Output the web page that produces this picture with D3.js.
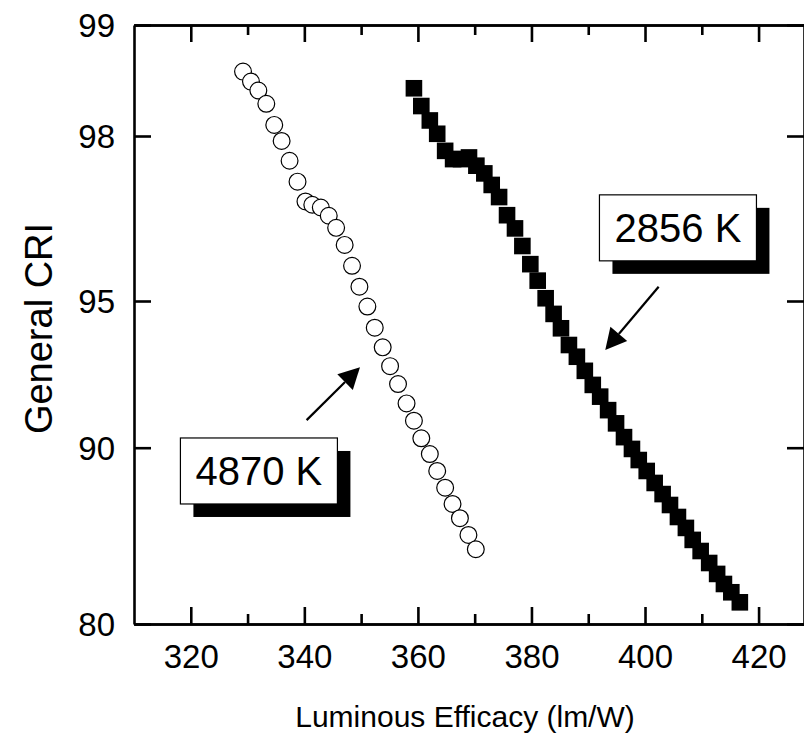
<!DOCTYPE html>
<html>
<head>
<meta charset="utf-8">
<script src="https://cdnjs.cloudflare.com/ajax/libs/d3/7.8.5/d3.min.js"></script>
<style>
	body { margin: 0; background: #fff; }
	svg { display: block; font-family: Arial, "Liberation Sans", sans-serif; }
</style>
</head>
<body>
<div id="chart"></div>
<script>
// Data (x = lm/W, y = general CRI)
var k4870X = [329.2, 330.6, 331.9, 333.3, 334.7, 336.0, 337.4, 338.8, 340.2, 341.4,
	342.9, 344.3, 345.6, 347.1, 348.4, 349.7, 351.1, 352.4, 353.8, 355.1,
	356.5, 358.0, 359.3, 360.6, 362.1, 363.4, 364.8, 366.1, 367.4, 368.9, 370.2];
var k4870Y = [98.58, 98.49, 98.41, 98.29, 98.10, 97.91, 97.55, 97.17, 96.81, 96.75,
	96.70, 96.55, 96.33, 96.02, 95.64, 95.26, 94.81, 94.09, 93.42, 92.78,
	92.17, 91.51, 90.92, 90.32, 89.64, 88.68, 87.73, 86.81, 86.00, 85.05, 84.24];

var k2856X = [359.3, 360.6, 362.1, 363.4, 364.8, 366.2, 367.6, 369.0, 370.3, 371.7,
	373.0, 374.3, 375.7, 377.1, 378.4, 379.8, 381.1, 382.5, 383.9, 385.2,
	386.6, 388.0, 389.4, 390.8, 392.1, 393.5, 394.9, 396.3, 397.7, 398.9,
	400.3, 401.7, 403.1, 404.4, 405.8, 407.2, 408.4, 409.8, 411.3, 412.7,
	413.9, 415.2, 416.7];
var k2856Y = [98.43, 98.27, 98.14, 98.02, 97.73, 97.58, 97.58, 97.61, 97.46, 97.32,
	97.11, 96.89, 96.56, 96.32, 96.00, 95.67, 95.37, 95.05, 94.56, 94.07,
	93.50, 93.10, 92.62, 92.14, 91.74, 91.28, 90.83, 90.36, 89.93, 89.30,
	88.68, 88.00, 87.37, 86.75, 86.07, 85.45, 84.77, 84.14, 83.46, 82.84,
	82.27, 81.80, 81.23];

var xTicks = [320, 340, 360, 380, 400, 420];
var xMinorTicks = [330, 350, 370, 390, 410];
var yTicks = [80, 90, 95, 98, 99];

// Annotations: label, box centre, arrow start and tip (data units)
var labels = [
	{text: "2856 K", x: 405.8, y: 96.33, from: [402.4, 95.26], to: [393.0, 93.33]},
	{text: "4870 K", x: 332.0, y: 88.68, from: [340.4, 90.94], to: [349.8, 92.74]}
];

var width = 804, height = 745;
var margin = {top: 25, right: 0, bottom: 121, left: 134};
var innerW = width - margin.left - margin.right;
var innerH = height - margin.top - margin.bottom;

var xScale = d3.scaleLinear().domain([310, 428]).range([0, innerW]);
// the CRI axis is stretched towards 100, so use a polylinear scale through the tick positions
var yScale = d3.scaleLinear().domain([80, 90, 95, 98, 99])
		.range([innerH, innerH - 176.3, innerH - 323, innerH - 488, innerH - 599]);

var svg = d3.select("#chart").append("svg")
		.attr("width", width)
		.attr("height", height);

var g = svg.append("g")
		.attr("transform", "translate(" + margin.left + "," + margin.top + ")");

// Axes (ticks point inward on all four sides)
var xAxisB = d3.axisBottom(xScale).tickValues(xTicks).tickSizeInner(-17).tickSizeOuter(0).tickPadding(22);
var xAxisT = d3.axisTop(xScale).tickValues(xTicks).tickSizeInner(-17).tickSizeOuter(0).tickFormat("");
var yAxisL = d3.axisLeft(yScale).tickValues(yTicks).tickSizeInner(-17).tickSizeOuter(0).tickPadding(19);
var yAxisR = d3.axisRight(yScale).tickValues(yTicks).tickSizeInner(-17).tickSizeOuter(0).tickFormat("");

g.append("g").attr("class", "axis x-bottom")
		.attr("transform", "translate(0," + innerH + ")")
		.call(xAxisB);
g.append("g").attr("class", "axis x-top")
		.call(xAxisT);
g.append("g").attr("class", "axis y-left")
		.call(yAxisL);
g.append("g").attr("class", "axis y-right")
		.attr("transform", "translate(" + innerW + ",0)")
		.call(yAxisR);

// Minor ticks on x
g.append("g").attr("class", "x-bottom")
		.attr("transform", "translate(0," + innerH + ")")
		.call(d3.axisBottom(xScale).tickValues(xMinorTicks).tickSizeInner(-10).tickSizeOuter(0).tickFormat(""));
g.append("g").attr("class", "x-top")
		.call(d3.axisTop(xScale).tickValues(xMinorTicks).tickSizeInner(-10).tickSizeOuter(0).tickFormat(""));

g.selectAll(".domain").attr("stroke", "#000").attr("stroke-width", 2.6);
g.selectAll(".tick line").attr("stroke", "#000").attr("stroke-width", 2.6);
g.selectAll(".tick text").attr("fill", "#000").style("font-size", "33px");
g.selectAll(".y-left .tick text").attr("dy", "0.36em");
g.selectAll(".x-bottom .tick text").attr("dy", "0.68em");

// Axis titles
svg.append("text")
		.attr("x", margin.left + innerW / 2 - 4)
		.attr("y", 727)
		.attr("text-anchor", "middle")
		.style("font-size", "30px")
		.text("Luminous Efficacy (lm/W)");

svg.append("text")
		.attr("transform", "translate(52," + (margin.top + innerH / 2 + 4) + ") rotate(-90)")
		.attr("text-anchor", "middle")
		.style("font-size", "38px")
		.text("General CRI");

// Series
var body = g.append("g").attr("class", "chart-body");

body.selectAll(".sq")
		.data(d3.zip(k2856X, k2856Y))
	.enter().append("rect")
		.attr("class", "sq")
		.attr("x", function(d) { return xScale(d[0]) - 8.3; })
		.attr("y", function(d) { return yScale(d[1]) - 8.3; })
		.attr("width", 16.6)
		.attr("height", 16.6)
		.attr("fill", "#000");

body.selectAll(".circ")
		.data(d3.zip(k4870X, k4870Y))
	.enter().append("circle")
		.attr("class", "circ")
		.attr("cx", function(d) { return xScale(d[0]); })
		.attr("cy", function(d) { return yScale(d[1]); })
		.attr("r", 8.4)
		.attr("fill", "#fff")
		.attr("stroke", "#000")
		.attr("stroke-width", 1.2);

// Labels with drop shadow, and arrows
var boxW = 157, boxH = 66, shadow = 13;

labels.forEach(function(l) {
	var cx = xScale(l.x), cy = yScale(l.y);
	var lab = g.append("g").attr("class", "label");
	lab.append("rect")
			.attr("x", cx - boxW / 2 + shadow)
			.attr("y", cy - boxH / 2 + shadow)
			.attr("width", boxW)
			.attr("height", boxH)
			.attr("fill", "#000");
	lab.append("rect")
			.attr("x", cx - boxW / 2)
			.attr("y", cy - boxH / 2)
			.attr("width", boxW)
			.attr("height", boxH)
			.attr("fill", "#fff")
			.attr("stroke", "#000")
			.attr("stroke-width", 1.2);
	lab.append("text")
			.attr("x", cx)
			.attr("y", cy)
			.attr("dy", "0.36em")
			.attr("text-anchor", "middle")
			.style("font-size", "40px")
			.text(l.text);

	// arrow
	var x0 = xScale(l.from[0]), y0 = yScale(l.from[1]);
	var x1 = xScale(l.to[0]), y1 = yScale(l.to[1]);
	var ang = Math.atan2(y1 - y0, x1 - x0);
	var headLen = 21, headHalf = 11;
	var bx = x1 - headLen * Math.cos(ang), by = y1 - headLen * Math.sin(ang);
	lab.append("line")
			.attr("x1", x0).attr("y1", y0)
			.attr("x2", bx).attr("y2", by)
			.attr("stroke", "#000")
			.attr("stroke-width", 2.2);
	lab.append("path")
			.attr("d", "M" + x1 + "," + y1 +
				"L" + (bx + headHalf * Math.sin(ang)) + "," + (by - headHalf * Math.cos(ang)) +
				"L" + (bx - headHalf * Math.sin(ang)) + "," + (by + headHalf * Math.cos(ang)) + "Z")
			.attr("fill", "#000");
});
</script>
</body>
</html>
